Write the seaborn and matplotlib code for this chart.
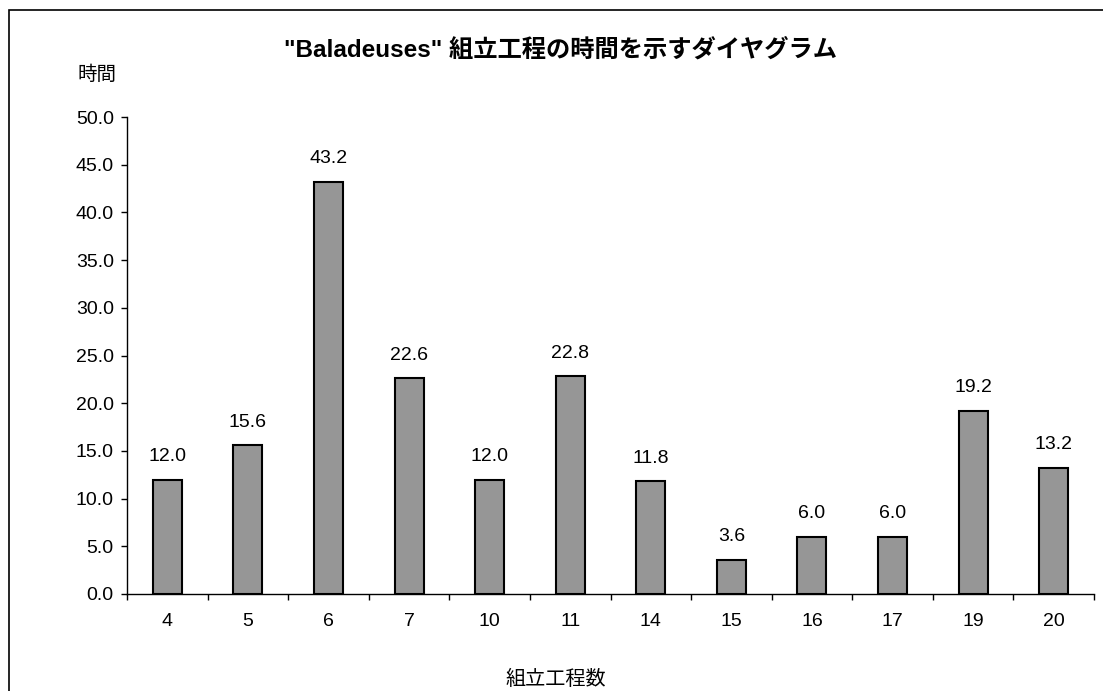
import matplotlib
matplotlib.use("Agg")
import matplotlib.pyplot as plt
import seaborn as sns
import pandas as pd
from matplotlib.patches import Rectangle

categories = ["4", "5", "6", "7", "10", "11", "14", "15", "16", "17", "19", "20"]
values = [12.0, 15.6, 43.2, 22.6, 12.0, 22.8, 11.8, 3.6, 6.0, 6.0, 19.2, 13.2]
yticks = [0, 5, 10, 15, 20, 25, 30, 35, 40, 45, 50]

sns.set_theme(style="white")
plt.rcParams['font.family'] = ['Liberation Sans', 'Noto Sans CJK JP', 'DejaVu Sans']
plt.rcParams['text.color'] = 'black'
plt.rcParams['xtick.color'] = 'black'
plt.rcParams['ytick.color'] = 'black'
plt.rcParams['axes.labelcolor'] = 'black'

df = pd.DataFrame({"cat": categories, "val": values})

fig = plt.figure(figsize=(11.03, 6.91), dpi=100)
ax = fig.add_axes([127/1103, 1-594/691, (1094-127)/1103, (594-117)/691])

sns.barplot(data=df, x="cat", y="val", order=categories, color="#969696",
            saturation=1, width=0.36, edgecolor="black", linewidth=1.5, ax=ax)

ax.set_ylim(0, 50)
ax.set_xlim(-0.5, len(categories)-0.5)
ax.set_yticks(yticks)
ax.set_yticklabels([f"{v:.1f}" for v in yticks], fontsize=14)
ax.set_xticks(range(len(categories)))
ax.set_xticklabels(categories, fontsize=14)
ax.tick_params(axis='x', length=0, pad=13.5)
ax.tick_params(axis='y', length=4.5, width=1, direction='out', color='black', left=True, pad=5)
# boundary ticks on x axis
ax.set_xticks([i - 0.5 for i in range(len(categories)+1)], minor=True)
ax.tick_params(axis='x', which='minor', length=4.5, width=1, direction='out', color='black', bottom=True)

for s in ["top", "right"]:
    ax.spines[s].set_visible(False)
for s in ["left", "bottom"]:
    ax.spines[s].set_color("black")
    ax.spines[s].set_linewidth(1)

ax.set_xlabel("")
ax.set_ylabel("")
for c in ax.containers:
    ax.bar_label(c, labels=[f"{v:.1f}" for v in values], padding=10.5, fontsize=14)

fig.text(560/1103, 1-50/691, '"Baladeuses" 組立工程の時間を示すダイヤグラム',
         ha='center', va='center', fontsize=17.5, fontweight='bold')
fig.text(97/1103, 1-75/691, '時間', ha='center', va='center', fontsize=14)
fig.text(556/1103, 1-679/691, '組立工程数', ha='center', va='center', fontsize=14.5)

fig.patches.append(Rectangle((9/1103, -0.05), 1.1, 1-10/691+0.05, transform=fig.transFigure,
                             fill=False, edgecolor='black', linewidth=1.2))

fig.savefig("out.png", dpi=100, facecolor="white")
